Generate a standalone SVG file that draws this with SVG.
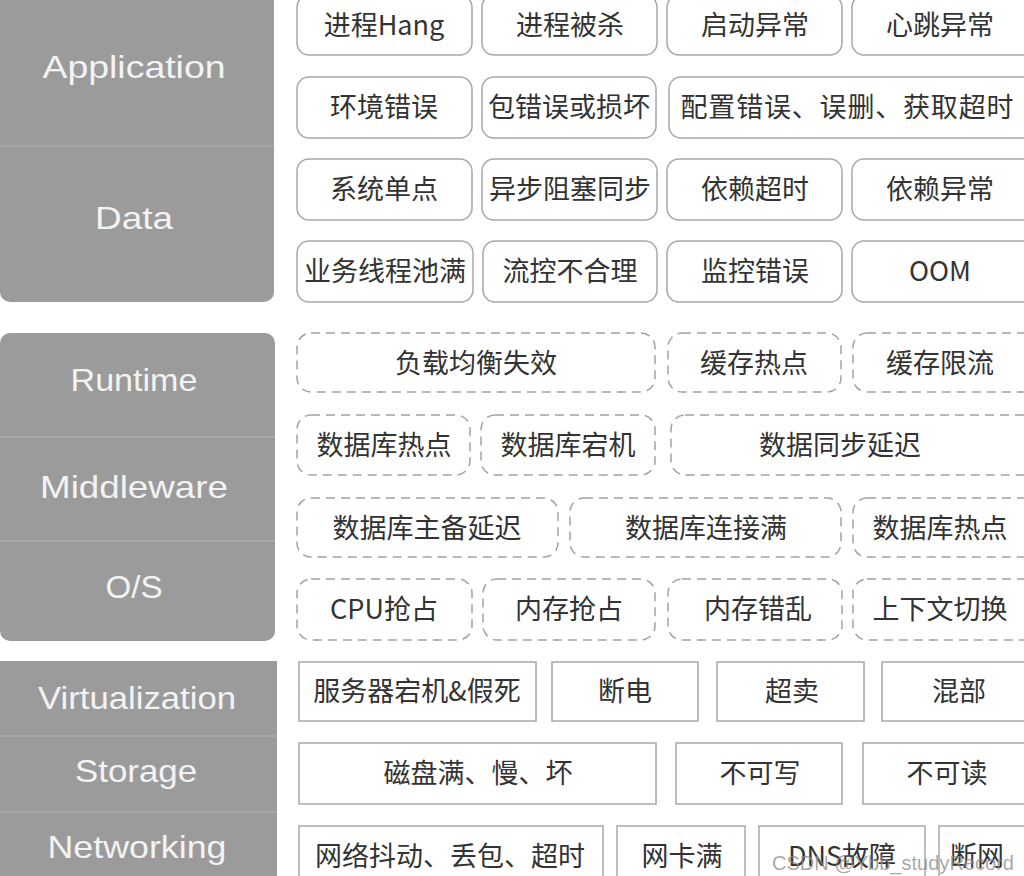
<svg xmlns="http://www.w3.org/2000/svg" width="1024" height="876" viewBox="0 0 1024 876">
<style>
.panel{fill:#9b9b9b}
.div{stroke:#b3b3b3;stroke-width:1}
.lbl{font-family:"Liberation Sans",Arial,sans-serif;font-size:32px;fill:#f3f3f3;text-anchor:middle}
.sb{fill:#fff;stroke:#a8a8a8;stroke-width:1.5}
.db{fill:#fff;stroke:#a2a2a2;stroke-width:1.5;stroke-dasharray:9 6}
.qb{fill:#fff;stroke:#a8a8a8;stroke-width:1.5}
.t{font-family:"Noto Sans CJK SC","Noto Sans",sans-serif;font-size:27px;fill:#333;text-anchor:middle}
.wm{font-family:"Liberation Sans",Arial,sans-serif;font-size:20px;fill:#8a8a8a;fill-opacity:0.75}
</style>
<rect width="1024" height="876" fill="#fff"/>

<g id="layer-app-data">
<rect class="panel" x="0" y="-20" width="274" height="322" rx="10"/>
<line class="div" x1="0" y1="146" x2="274" y2="146"/>
<text class="lbl" x="134" y="78" textLength="183" lengthAdjust="spacingAndGlyphs">Application</text>
<text class="lbl" x="134" y="229" textLength="78" lengthAdjust="spacingAndGlyphs">Data</text>
</g>
<g id="layer-runtime-mw-os">
<rect class="panel" x="0" y="333" width="275" height="308" rx="10"/>
<line class="div" x1="0" y1="437" x2="275" y2="437"/>
<line class="div" x1="0" y1="541" x2="275" y2="541"/>
<text class="lbl" x="134" y="391" textLength="127" lengthAdjust="spacingAndGlyphs">Runtime</text>
<text class="lbl" x="134" y="498" textLength="188" lengthAdjust="spacingAndGlyphs">Middleware</text>
<text class="lbl" x="134" y="598" textLength="57" lengthAdjust="spacingAndGlyphs">O/S</text>
</g>
<g id="layer-infra">
<rect class="panel" x="0" y="661" width="277" height="230"/>
<line class="div" x1="0" y1="736" x2="277" y2="736"/>
<line class="div" x1="0" y1="812" x2="277" y2="812"/>
<text class="lbl" x="137" y="709" textLength="198" lengthAdjust="spacingAndGlyphs">Virtualization</text>
<text class="lbl" x="136" y="782" textLength="122" lengthAdjust="spacingAndGlyphs">Storage</text>
<text class="lbl" x="137" y="858" textLength="179" lengthAdjust="spacingAndGlyphs">Networking</text>
</g>

<g id="connectors"></g>

<!-- Section 1: solid rounded -->
<g id="n-hang"><rect class="sb" x="297" y="-5" width="175" height="60" rx="12"/><text class="t" x="384" y="35">进程Hang</text></g>
<g id="n-killed"><rect class="sb" x="482" y="-5" width="175" height="60" rx="12"/><text class="t" x="570" y="35">进程被杀</text></g>
<g id="n-startup"><rect class="sb" x="667" y="-5" width="175" height="60" rx="12"/><text class="t" x="755" y="35">启动异常</text></g>
<g id="n-heartbeat"><rect class="sb" x="852" y="-5" width="190" height="60" rx="12"/><text class="t" x="940" y="35">心跳异常</text></g>

<g id="n-env"><rect class="sb" x="297" y="77" width="175" height="61" rx="12"/><text class="t" x="384" y="117">环境错误</text></g>
<g id="n-pkg"><rect class="sb" x="482" y="77" width="174" height="61" rx="12"/><text class="t" x="569" y="117">包错误或损坏</text></g>
<g id="n-config"><rect class="sb" x="669" y="77" width="370" height="61" rx="12"/><text class="t" x="847" y="117" textLength="333" lengthAdjust="spacing">配置错误、误删、获取超时</text></g>

<g id="n-spof"><rect class="sb" x="297" y="159" width="175" height="61" rx="12"/><text class="t" x="384" y="199">系统单点</text></g>
<g id="n-async"><rect class="sb" x="482" y="159" width="175" height="61" rx="12"/><text class="t" x="570" y="199">异步阻塞同步</text></g>
<g id="n-deptimeout"><rect class="sb" x="667" y="159" width="175" height="61" rx="12"/><text class="t" x="755" y="199">依赖超时</text></g>
<g id="n-depexc"><rect class="sb" x="852" y="159" width="190" height="61" rx="12"/><text class="t" x="940" y="199">依赖异常</text></g>

<g id="n-threadpool"><rect class="sb" x="297" y="241" width="176" height="61" rx="12"/><text class="t" x="385" y="281">业务线程池满</text></g>
<g id="n-flowctl"><rect class="sb" x="483" y="241" width="174" height="61" rx="12"/><text class="t" x="570" y="281">流控不合理</text></g>
<g id="n-monitor"><rect class="sb" x="667" y="241" width="175" height="61" rx="12"/><text class="t" x="755" y="281">监控错误</text></g>
<g id="n-oom"><rect class="sb" x="852" y="241" width="190" height="61" rx="12"/><text class="t" x="940" y="281">OOM</text></g>

<!-- Section 2: dashed rounded -->
<g id="n-lb"><rect class="db" x="297" y="333" width="358" height="59" rx="14"/><text class="t" x="476" y="373">负载均衡失效</text></g>
<g id="n-cachehot"><rect class="db" x="668" y="333" width="173" height="59" rx="14"/><text class="t" x="754" y="373">缓存热点</text></g>
<g id="n-cachelimit"><rect class="db" x="853" y="333" width="190" height="59" rx="14"/><text class="t" x="940" y="373">缓存限流</text></g>

<g id="n-dbhot1"><rect class="db" x="297" y="415" width="173" height="60" rx="14"/><text class="t" x="384" y="455">数据库热点</text></g>
<g id="n-dbdown"><rect class="db" x="481" y="415" width="174" height="60" rx="14"/><text class="t" x="568" y="455">数据库宕机</text></g>
<g id="n-datasync"><rect class="db" x="671" y="415" width="370" height="60" rx="14"/><text class="t" x="840" y="455">数据同步延迟</text></g>

<g id="n-dbrepl"><rect class="db" x="297" y="498" width="261" height="59" rx="14"/><text class="t" x="427" y="538">数据库主备延迟</text></g>
<g id="n-dbconn"><rect class="db" x="570" y="498" width="271" height="59" rx="14"/><text class="t" x="706" y="538">数据库连接满</text></g>
<g id="n-dbhot2"><rect class="db" x="853" y="498" width="190" height="59" rx="14"/><text class="t" x="940" y="538">数据库热点</text></g>

<g id="n-cpu"><rect class="db" x="297" y="579" width="175" height="61" rx="14"/><text class="t" x="384" y="619">CPU抢占</text></g>
<g id="n-mem"><rect class="db" x="483" y="579" width="172" height="61" rx="14"/><text class="t" x="569" y="619">内存抢占</text></g>
<g id="n-memerr"><rect class="db" x="668" y="579" width="174" height="61" rx="14"/><text class="t" x="758" y="619">内存错乱</text></g>
<g id="n-ctx"><rect class="db" x="853" y="579" width="190" height="61" rx="14"/><text class="t" x="940" y="619">上下文切换</text></g>

<!-- Section 3: square -->
<g id="n-server"><rect class="qb" x="299" y="662" width="237" height="59"/><text class="t" x="417" y="701">服务器宕机&amp;假死</text></g>
<g id="n-power"><rect class="qb" x="552" y="662" width="146" height="59"/><text class="t" x="625" y="701">断电</text></g>
<g id="n-oversell"><rect class="qb" x="717" y="662" width="147" height="59"/><text class="t" x="792" y="701">超卖</text></g>
<g id="n-mixed"><rect class="qb" x="882" y="662" width="160" height="59"/><text class="t" x="959" y="701">混部</text></g>

<g id="n-disk"><rect class="qb" x="299" y="743" width="357" height="61"/><text class="t" x="478" y="783">磁盘满、慢、坏</text></g>
<g id="n-nowrite"><rect class="qb" x="676" y="743" width="166" height="61"/><text class="t" x="760" y="783">不可写</text></g>
<g id="n-noread"><rect class="qb" x="863" y="743" width="180" height="61"/><text class="t" x="947" y="783">不可读</text></g>

<g id="n-jitter"><rect class="qb" x="299" y="826" width="304" height="60"/><text class="t" x="450" y="866">网络抖动、丢包、超时</text></g>
<g id="n-nic"><rect class="qb" x="617" y="826" width="128" height="60"/><text class="t" x="682" y="866">网卡满</text></g>
<g id="n-dns"><rect class="qb" x="759" y="826" width="166" height="60"/><text class="t" x="842" y="866">DNS故障</text></g>
<g id="n-netdown"><rect class="qb" x="939" y="826" width="100" height="60"/><text class="t" x="977" y="866">断网</text></g>

<text class="wm" x="772" y="870" textLength="242" lengthAdjust="spacingAndGlyphs">CSDN @Ybb_studyRecord</text>
</svg>
